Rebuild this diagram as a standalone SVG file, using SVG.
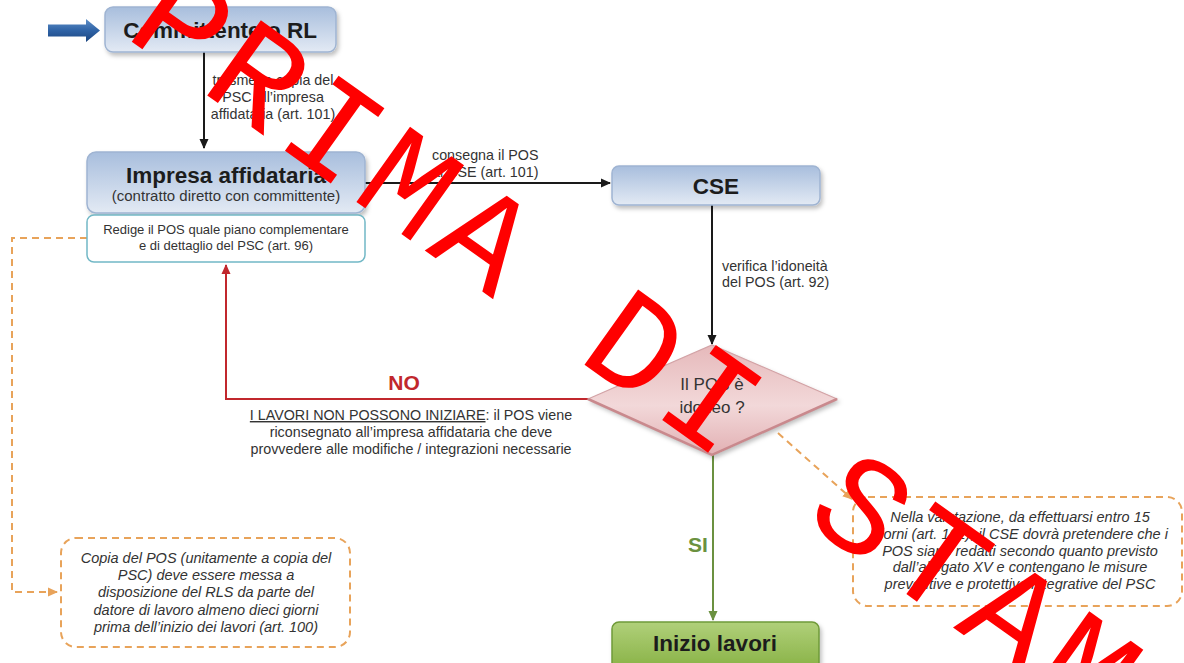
<svg xmlns="http://www.w3.org/2000/svg" width="1184" height="663" viewBox="0 0 1184 663">
<style>
  text { font-family: "Liberation Sans", Arial, sans-serif; }
  .title { font-weight: bold; font-size: 22.5px; fill: #1c1c1c; text-anchor: middle; }
  .sub { font-size: 15px; fill: #333; text-anchor: middle; }
  .small { font-size: 13px; fill: #333; text-anchor: middle; }
  .lbl { font-size: 14.3px; fill: #333; }
  .mid { text-anchor: middle; }
  .note { font-size: 14.5px; fill: #333; font-style: italic; text-anchor: middle; }
  .bluebox { fill: url(#gBlue); stroke: #9fb4d2; stroke-width: 1.5; filter: url(#shadow); }
  .conn { fill: none; stroke: #1a1a1a; stroke-width: 2; }
  .dash { fill: none; stroke: #e8a35a; stroke-width: 2; stroke-dasharray: 7 5; }
  .wm { font-family: "Liberation Mono", "Courier New", monospace; font-size: 140px; letter-spacing: 8.7px; fill: #ff0000; }
</style>
<defs>
  <linearGradient id="gBlue" x1="0" y1="0" x2="0" y2="1">
    <stop offset="0" stop-color="#a8bedd"/>
    <stop offset="1" stop-color="#e3eaf4"/>
  </linearGradient>
  <linearGradient id="gGreen" x1="0" y1="0" x2="0" y2="1">
    <stop offset="0" stop-color="#b0d07a"/>
    <stop offset="1" stop-color="#86b042"/>
  </linearGradient>
  <linearGradient id="gDiamond" x1="0" y1="0" x2="0" y2="1">
    <stop offset="0" stop-color="#e6b9bb"/>
    <stop offset="0.55" stop-color="#f2d8d9"/>
    <stop offset="1" stop-color="#e2b0b3"/>
  </linearGradient>
  <linearGradient id="gArrow" x1="0" y1="0" x2="0" y2="1">
    <stop offset="0" stop-color="#5f8fc8"/>
    <stop offset="0.5" stop-color="#2f63a6"/>
    <stop offset="1" stop-color="#1a447f"/>
  </linearGradient>
  <filter id="shadow" x="-10%" y="-20%" width="130%" height="160%">
    <feDropShadow dx="2" dy="3" stdDeviation="2" flood-color="#000" flood-opacity="0.25"/>
  </filter>
  <marker id="mBlack" markerWidth="10" markerHeight="10" refX="9" refY="5" orient="auto" markerUnits="userSpaceOnUse">
    <path d="M0,0.5 L10,5 L0,9.5 Z" fill="#1a1a1a"/>
  </marker>
  <marker id="mRed" markerWidth="10" markerHeight="10" refX="9" refY="5" orient="auto" markerUnits="userSpaceOnUse">
    <path d="M0,0.5 L10,5 L0,9.5 Z" fill="#c1272d"/>
  </marker>
  <marker id="mGreen" markerWidth="10" markerHeight="10" refX="9" refY="5" orient="auto" markerUnits="userSpaceOnUse">
    <path d="M0,0.5 L10,5 L0,9.5 Z" fill="#6b9140"/>
  </marker>
  <marker id="mOrange" markerWidth="10" markerHeight="10" refX="9" refY="5" orient="auto" markerUnits="userSpaceOnUse">
    <path d="M0,0.5 L10,5 L0,9.5 Z" fill="#e8a35a"/>
  </marker>
</defs>

<rect x="0" y="0" width="1184" height="663" fill="#ffffff"/>

<g id="connectors">
  <line class="conn" x1="204" y1="52" x2="204" y2="148" marker-end="url(#mBlack)"/>
  <line class="conn" x1="365" y1="183" x2="610" y2="183" marker-end="url(#mBlack)"/>
  <line class="conn" x1="712" y1="205" x2="712" y2="344" marker-end="url(#mBlack)"/>
  <path d="M588,399 H226 V265" fill="none" stroke="#c1272d" stroke-width="2" marker-end="url(#mRed)"/>
  <line x1="713" y1="455" x2="713" y2="620" stroke="#6b9140" stroke-width="2" marker-end="url(#mGreen)"/>
  <path class="dash" d="M87,238 H12 V592 H57" marker-end="url(#mOrange)"/>
  <line class="dash" x1="778" y1="433" x2="852" y2="499" marker-end="url(#mOrange)"/>
  <text class="lbl mid" x="273" y="85">trasmette copia del</text>
  <text class="lbl mid" x="273" y="102">PSC all’impresa</text>
  <text class="lbl mid" x="273" y="119">affidataria (art. 101)</text>
  <text class="lbl" x="432" y="160">consegna il POS</text>
  <text class="lbl" x="432" y="177">al CSE (art. 101)</text>
  <text class="lbl" x="722" y="271">verifica l’idoneità</text>
  <text class="lbl" x="722" y="287">del POS (art. 92)</text>
  <text x="404" y="390" text-anchor="middle" font-weight="bold" font-size="21" fill="#c1272d">NO</text>
  <text class="lbl mid" x="411" y="420"><tspan text-decoration="underline">I LAVORI NON POSSONO INIZIARE</tspan>: il POS viene</text>
  <text class="lbl mid" x="411" y="437">riconsegnato all’impresa affidataria che deve</text>
  <text class="lbl mid" x="411" y="454">provvedere alle modifiche / integrazioni necessarie</text>
  <text x="698" y="552" text-anchor="middle" font-weight="bold" font-size="21" fill="#6b9140">SI</text>
</g>

<g id="entry-arrow">
  <path d="M48,24.5 H86 V19 L100,30.5 L86,42 V36.5 H48 Z" fill="url(#gArrow)"/>
</g>

<g id="committente">
  <rect class="bluebox" x="105" y="7" width="231" height="45" rx="8"/>
  <text class="title" x="220" y="38">Committente o RL</text>
</g>

<g id="impresa">
  <rect class="bluebox" x="87" y="152" width="278" height="61" rx="9"/>
  <text class="title" x="226" y="183">Impresa affidataria</text>
  <text class="sub" x="226" y="201">(contratto diretto con committente)</text>
</g>

<g id="redige">
  <rect x="87" y="215" width="278" height="47" rx="7" fill="#ffffff" stroke="#72b8c6" stroke-width="1.5"/>
  <text class="small" x="226" y="234">Redige il POS quale piano complementare</text>
  <text class="small" x="226" y="250">e di dettaglio del PSC (art. 96)</text>
</g>

<g id="cse">
  <rect class="bluebox" x="612" y="166" width="208" height="39" rx="7"/>
  <text class="title" x="716" y="194">CSE</text>
</g>

<g id="decision">
  <polygon points="588,399 712,345 837,399 712,455" fill="url(#gDiamond)" stroke="#d3a3a6" stroke-width="1.2" filter="url(#shadow)"/>
  <path d="M588,399 L712,455 L837,399" fill="none" stroke="#c9898d" stroke-width="2.5"/>
  <text x="712" y="390" text-anchor="middle" font-size="17" fill="#333">Il POS è</text>
  <text x="712" y="413" text-anchor="middle" font-size="17" fill="#333">idoneo ?</text>
</g>

<g id="inizio">
  <rect x="612" y="622" width="207" height="50" rx="7" fill="url(#gGreen)" stroke="#6f9a38" stroke-width="1.5" filter="url(#shadow)"/>
  <text class="title" x="715" y="651">Inizio lavori</text>
</g>

<g id="note-rls">
  <rect class="dash" x="61" y="538" width="289" height="109" rx="15"/>
  <text class="note" x="206" y="563">Copia del POS (unitamente a copia del</text>
  <text class="note" x="206" y="580">PSC) deve essere messa a</text>
  <text class="note" x="206" y="597">disposizione del RLS da parte del</text>
  <text class="note" x="206" y="615">datore di lavoro almeno dieci giorni</text>
  <text class="note" x="206" y="632">prima dell’inizio dei lavori (art. 100)</text>
</g>

<g id="note-valutazione">
  <rect class="dash" x="853" y="497" width="329" height="109" rx="15"/>
  <text class="note" x="1020" y="522">Nella valutazione, da effettuarsi entro 15</text>
  <text class="note" x="1020" y="539">giorni (art. 101), il CSE dovrà pretendere che i</text>
  <text class="note" x="1020" y="556">POS siano redatti secondo quanto previsto</text>
  <text class="note" x="1020" y="572">dall’allegato XV e contengano le misure</text>
  <text class="note" x="1020" y="589">preventive e protettive integrative del PSC</text>
</g>

<g id="watermark">
  <text class="wm" transform="translate(712,399) rotate(35.5)" x="-691" y="46">PRIMA DI STAMPA</text>
</g>
</svg>
